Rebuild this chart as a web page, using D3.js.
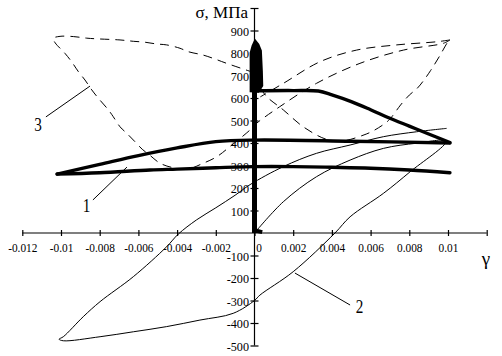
<!DOCTYPE html>
<html><head><meta charset="utf-8">
<script src="https://cdn.jsdelivr.net/npm/d3@7/dist/d3.min.js"></script>
<style>body{margin:0;background:#fff}svg{display:block}text{font-family:'Liberation Serif','Times New Roman',serif}</style>
</head><body>
<svg id="c" width="502" height="356"></svg>
<script>
// ---- data ----
const xTicks = [-0.012,-0.01,-0.008,-0.006,-0.004,-0.002,0,0.002,0.004,0.006,0.008,0.01,0.012];
const xTickLabels = ["-0.012","-0.01","-0.008","-0.006","-0.004","-0.002","0","0.002","0.004","0.006","0.008","0.01",""];
const yTicks = [-500,-400,-300,-200,-100,100,200,300,400,500,600,700,800,900,1000];
const yTickLabels = ["-500","-400","-300","-200","-100","100","200","300","400","500","600","700","800","900",""];
const yTitle = "σ, МПа";
const xTitle = "γ";

// curve 1 (thick solid)
const c1Spike = [[0,0],[0,640]];
const c1Blob = [[-0.0002,630],[-0.0002,800],[-0.0001,832],[0.00003,856],[0.0002,838],[0.00033,810],[0.00038,720],[0.0004,655],[0.0002,628]];
const c1Foot = [[0,12],[0.0004,4]];
const c1Top = [[0,632],[0.002,633],[0.0033,631],[0.004,614],[0.005,584],[0.006,548],[0.007,510],[0.008,475],[0.009,440],[0.0101,402]];
const c1Upper = [[-0.0102,262],[-0.008,305],[-0.006,344],[-0.004,378],[-0.002,406],[0,413],[0.005,408],[0.0101,400]];
const c1Lower = [[-0.0102,262],[-0.008,268],[-0.0054,280],[-0.004,284],[-0.002,290],[0,295],[0.002,295],[0.004,292],[0.006,288],[0.008,280],[0.0101,268]];

// curve 2 (thin solid loop)
const c2 = [[0.0001,10],[0.00149,139],[0.0032,250],[0.00494,324],[0.00666,376],[0.00838,399],[0.0099,408],
  [0.00804,272],[0.00666,176],[0.00494,72],[0.00416,0],[0.002,-172],[0.00028,-276],[0,-300],
  [-0.0011,-357],[-0.00282,-387],[-0.00454,-416],[-0.00626,-439],[-0.00798,-461],[-0.00988,-479],[-0.0101,-472],
  [-0.00988,-461],[-0.00885,-372],[-0.00798,-305],[-0.00626,-194],[-0.00454,-61],[-0.00394,-5],[-0.003,58],
  [-0.002,112],[-0.001,168],[-0.00023,215],[0.00149,295],[0.0032,354],[0.00494,391],[0.00666,428],[0.00838,450],[0.00993,465]];

// curve 3 (dashed)
const c3a = [[0,712],[-0.00144,754],[-0.00213,776],[-0.00266,791],[-0.00343,806],[-0.00385,821],[-0.00454,836],[-0.00505,840],
  [-0.00566,848],[-0.00626,852],[-0.00695,858],[-0.00816,863],[-0.00867,866],[-0.00936,873],[-0.01005,874],[-0.0104,865],
  [-0.0103,845],[-0.0098,799],[-0.00945,761],[-0.0091,717],[-0.00876,680],[-0.00841,636],[-0.00807,599],[-0.00755,547],
  [-0.0073,517],[-0.00695,472],[-0.0066,443],[-0.00618,406],[-0.0058,372],[-0.0054,345],[-0.00488,310],[-0.0042,290],
  [-0.0035,283],[-0.00265,310],[-0.00195,339],[-0.00127,384],[-0.00023,458],[0.0001,487],[0.0013,561],[0.0032,665],
  [0.00545,754],[0.0077,813],[0.00976,843],[0.0101,858]];
const c3b = [[0.0101,858],[0.00942,850],[0.00735,836],[0.00528,813],[0.00338,761],[0.00149,665],[0.0003,605]];
const c3c = [[0.0003,645],[0.00063,606],[0.00149,547],[0.00252,472],[0.00373,416],[0.0046,410],[0.00566,436],[0.0062,457],
  [0.00686,495],[0.0071,517],[0.00755,569],[0.008,613],[0.00841,643],[0.00876,680],[0.0091,722],[0.00955,784],[0.01,850],[0.0101,858]];

// curve labels with leader lines (data coordinates)
const curveLabels = ["1","2","3"];
const labelAt = [[-0.00868,93],[0.00543,-356],[-0.01119,453]];
const leaderFrom = [[-0.00835,147],[0.00494,-320],[-0.01078,516]];
const leaderTo = [[-0.00659,293],[0.00209,-178],[-0.0085,653]];

// ---- drawing ----
const svg = d3.select("#c");
const x = d3.scaleLinear().domain([-0.012,0.012]).range([22.3,486.7]);
const y = d3.scaleLinear().domain([-500,1000]).range([345.5,8]);
const line = d3.line().x(d=>x(d[0])).y(d=>y(d[1]));
const smooth = d3.line().x(d=>x(d[0])).y(d=>y(d[1])).curve(d3.curveCatmullRom.alpha(0.5));
const font = "'Liberation Serif','Times New Roman',serif";

// axes
const gx = svg.append("g").attr("transform",`translate(0,${y(0)})`)
  .call(d3.axisBottom(x).tickValues(xTicks).tickFormat((d,i)=>xTickLabels[i]).tickSizeOuter(0));
gx.attr("font-family",font);
gx.select(".domain").attr("stroke","#000").attr("stroke-width",1.2).attr("d",`M${x(-0.012)},0H${x(0.012)}`);
gx.selectAll(".tick line").attr("y1",-3).attr("y2",3).attr("stroke","#000").attr("stroke-width",1.2);
gx.selectAll(".tick text").style("font-family",font).attr("font-size",13.5).attr("fill","#000")
  .attr("y",0).attr("dy",0)
  .attr("transform",(d)=>`translate(${d===0?4:0},18.5) scale(0.84,1)`);

const gy = svg.append("g").attr("transform",`translate(${x(0)},0)`)
  .call(d3.axisLeft(y).tickValues(yTicks).tickFormat((d,i)=>yTickLabels[i]).tickSizeOuter(0));
gy.attr("font-family",font);
gy.select(".domain").attr("stroke","#000").attr("stroke-width",1.2).attr("d",`M0,${y(-500)}V${y(1000)}`);
gy.selectAll(".tick line").attr("x1",-4).attr("x2",4).attr("stroke","#000").attr("stroke-width",1.2);
gy.selectAll(".tick text").style("font-family",font).attr("font-size",13.5).attr("fill","#000")
  .attr("x",0).attr("dy","0.35em").attr("transform","translate(-5.5,0) scale(0.9,1)");

// titles
svg.append("text").attr("x",248).attr("y",18).attr("text-anchor","end")
  .style("font-family",font).attr("font-size",17).text(yTitle);
svg.append("text").attr("x",486).attr("y",265).attr("text-anchor","middle")
  .style("font-family",font).attr("font-size",19).text(xTitle);

// curve 3 dashed
[c3a,c3b,c3c].forEach(d=>{
  svg.append("path").attr("d",smooth(d)).attr("fill","none").attr("stroke","#000")
    .attr("stroke-width",1).attr("stroke-dasharray","9,6");
});
// curve 2 thin
svg.append("path").attr("d",smooth(c2)).attr("fill","none").attr("stroke","#000").attr("stroke-width",1);
// curve 1 thick
[c1Top,c1Upper,c1Lower].forEach(d=>{
  svg.append("path").attr("d",smooth(d)).attr("fill","none").attr("stroke","#000")
    .attr("stroke-width",3.4).attr("stroke-linejoin","round").attr("stroke-linecap","round");
});
svg.append("path").attr("d",line(c1Spike)).attr("fill","none").attr("stroke","#000").attr("stroke-width",5);
svg.append("path").attr("d",line(c1Foot)).attr("fill","none").attr("stroke","#000").attr("stroke-width",4);
svg.append("path").attr("d",line(c1Blob)+"Z").attr("fill","#000").attr("stroke","#000").attr("stroke-width",2);

// curve labels
curveLabels.forEach((t,i)=>{
  svg.append("line").attr("x1",x(leaderFrom[i][0])).attr("y1",y(leaderFrom[i][1]))
    .attr("x2",x(leaderTo[i][0])).attr("y2",y(leaderTo[i][1])).attr("stroke","#000").attr("stroke-width",1);
  svg.append("text").attr("text-anchor","middle").style("font-family",font).attr("font-size",19)
    .attr("transform",`translate(${x(labelAt[i][0])},${y(labelAt[i][1])}) scale(0.8,1)`).text(t);
});
</script>
</body></html>
